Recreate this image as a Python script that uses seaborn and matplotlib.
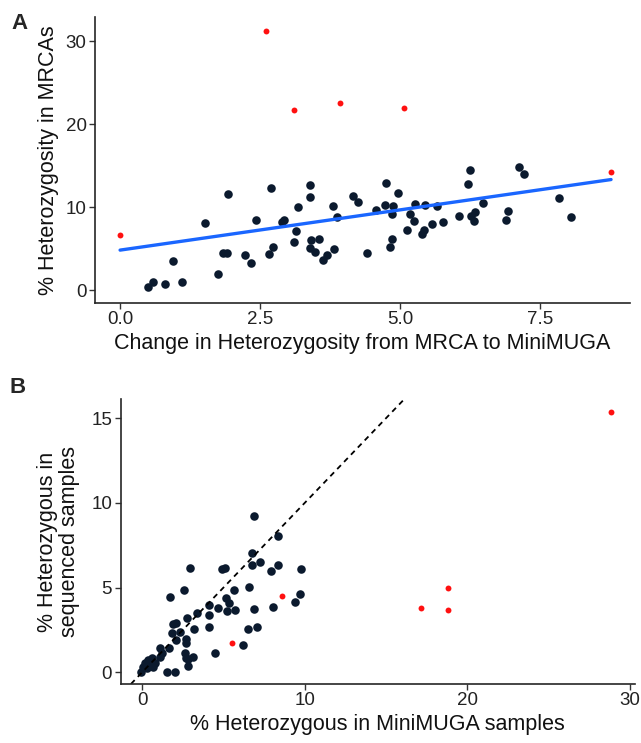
"""Heterozygosity in MRCAs vs MiniMUGA, and sequenced vs MiniMUGA samples."""

import matplotlib
matplotlib.use("Agg")
import matplotlib.pyplot as plt
import pandas as pd
import seaborn as sns

# Panel A: change in heterozygosity (x) vs % heterozygosity in MRCAs (y)
a_main_x = [0.49, 0.58, 0.80, 0.94, 1.10, 1.52, 1.74, 1.83, 1.91, 1.92, 2.23, 2.33,
            2.42, 2.65, 2.70, 2.73, 2.89, 2.92, 3.17, 3.13, 3.10, 3.38, 3.39, 3.40,
            3.38, 3.48, 3.55, 3.62, 3.70, 3.79, 3.82, 3.87, 4.16, 4.24, 4.40, 4.57,
            4.73, 4.74, 4.87, 4.85, 4.95, 4.82, 4.86, 5.12, 5.18, 5.25, 5.26, 5.38,
            5.43, 5.44, 5.56, 5.66, 5.76, 6.05, 6.21, 6.25, 6.27, 6.32, 6.34, 6.48,
            6.89, 6.93, 7.11, 7.20, 7.84, 8.04]
a_main_y = [0.4, 1.0, 0.72, 3.5, 1.0, 8.07, 2.0, 4.5, 4.5, 11.57, 4.2, 3.3,
            8.5, 4.4, 12.25, 5.2, 8.2, 8.5, 10.0, 7.07, 5.8, 12.65, 11.24, 6.0,
            5.1, 4.6, 6.2, 3.6, 4.2, 10.16, 5.0, 8.8, 11.3, 10.56, 4.5, 9.68,
            10.2, 12.93, 10.1, 9.2, 11.65, 5.2, 6.2, 7.27, 9.2, 8.27, 10.36, 6.75,
            7.2, 10.2, 8.0, 10.16, 8.2, 8.88, 12.77, 14.46, 8.88, 8.27, 9.36, 10.48,
            8.47, 9.48, 14.86, 13.94, 11.04, 8.76]
a_out_x = [0.0, 2.60, 3.11, 3.92, 5.07, 8.76]
a_out_y = [6.7, 31.2, 21.7, 22.6, 22.0, 14.2]

# Panel B: % heterozygous in MiniMUGA (x) vs sequenced samples (y)
b_main_x = [6.91, 8.38, 6.74, 7.28, 6.74, 7.91, 8.38, 9.80, 2.97, 4.90, 5.08, 6.56,
            6.88, 8.03, 9.43, 9.74, 6.50, 7.07, 6.21, 5.64,
            1.74, 2.58, 5.14, 5.33, 4.12, 4.67, 5.25, 5.74, 3.40, 4.12, 2.79, 1.91,
            2.11, 4.12, 3.18, 2.32, 1.84, 2.11, 2.73, 2.73, 1.66, 1.13, 1.25, 1.13,
            2.64, 2.67, 2.83, 3.13, 2.85, 4.47, 1.50, 2.01, 0.17, 0.37, 0.58, 0.47,
            0.78, 0.06, 0.27, -0.04, 0.68]
b_main_y = [9.25, 8.07, 7.07, 6.52, 6.34, 6.00, 6.34, 6.10, 6.15, 6.10, 6.18, 5.04,
            3.72, 3.84, 4.17, 4.61, 2.54, 2.66, 1.63, 4.86,
            4.43, 4.84, 4.37, 4.11, 3.96, 3.82, 3.62, 3.68, 3.48, 3.38, 3.23, 2.85,
            2.93, 2.69, 2.54, 2.40, 2.30, 1.91, 1.95, 1.71, 1.45, 1.45, 1.12, 0.88,
            1.16, 0.86, 0.79, 0.92, 0.37, 1.12, 0.04, 0.04, 0.57, 0.73, 0.83, 0.43,
            0.53, 0.33, 0.24, 0.04, 0.33]
b_out_x = [5.56, 8.63, 28.87, 18.85, 17.13, 18.84]
b_out_y = [1.71, 4.51, 15.36, 5.00, 3.78, 3.70]

DOT = "#0b1a2e"
RED = "#ff1010"
BLUE = "#1a66ff"

sns.set_theme(style="ticks")
plt.rcParams["font.family"] = ["Liberation Sans", "DejaVu Sans"]
plt.rcParams["axes.linewidth"] = 1.2
plt.rcParams["xtick.major.size"] = 4
plt.rcParams["ytick.major.size"] = 4
plt.rcParams["xtick.major.width"] = 1.0
plt.rcParams["ytick.major.width"] = 1.0
plt.rcParams["xtick.color"] = "#333333"
plt.rcParams["ytick.color"] = "#333333"

df_a = pd.DataFrame({"x": a_main_x + a_out_x, "y": a_main_y + a_out_y})

fig = plt.figure(figsize=(6.41, 7.43), dpi=100)
ax_a = fig.add_axes([0.148, 0.592, 0.835, 0.385])
ax_b = fig.add_axes([0.188, 0.0794, 0.802, 0.3836])

# A: scatter + linear fit over all points
sns.scatterplot(x=a_main_x, y=a_main_y, ax=ax_a, color=DOT, s=38, linewidth=0)
sns.scatterplot(x=a_out_x, y=a_out_y, ax=ax_a, color=RED, s=18, linewidth=0)
sns.regplot(data=df_a, x="x", y="y", ax=ax_a, scatter=False, ci=None,
            line_kws={"color": BLUE, "lw": 2.4})
ax_a.set_xlim(-0.45, 9.1)
ax_a.set_ylim(-1.57, 32.9)
ax_a.set_xticks([0, 2.5, 5, 7.5])
ax_a.set_xticklabels(["0.0", "2.5", "5.0", "7.5"])
ax_a.set_yticks([0, 10, 20, 30])
ax_a.set_xlabel("Change in Heterozygosity from MRCA to MiniMUGA", fontsize=15.5,
                labelpad=3)
ax_a.set_ylabel("% Heterozygosity in MRCAs", fontsize=15.5, labelpad=5)

# B: scatter + identity line
ax_b.axline((0, 0), slope=1, color="black", lw=1.3, ls=(0, (3, 2.5)))
sns.scatterplot(x=b_main_x, y=b_main_y, ax=ax_b, color=DOT, s=38, linewidth=0)
sns.scatterplot(x=b_out_x, y=b_out_y, ax=ax_b, color=RED, s=18, linewidth=0)
ax_b.set_xlim(-1.33, 30.3)
ax_b.set_ylim(-0.69, 16.14)
ax_b.set_xticks([0, 10, 20, 30])
ax_b.set_yticks([0, 5, 10, 15])
ax_b.set_xlabel("% Heterozygous in MiniMUGA samples", fontsize=15.5, labelpad=3)
ax_b.set_ylabel("% Heterozygous in\nsequenced samples", fontsize=15.5,
                linespacing=1.1, labelpad=8)

for ax in (ax_a, ax_b):
    sns.despine(ax=ax)
    ax.tick_params(labelsize=13.5, labelcolor="#222222", pad=2)
    ax.xaxis.label.set_color("#111111")
    ax.yaxis.label.set_color("#111111")

fig.text(0.018, 0.982, "A", fontsize=16, fontweight="bold", va="top")
fig.text(0.015, 0.492, "B", fontsize=16, fontweight="bold", va="top")

fig.savefig("out.png", dpi=100)
